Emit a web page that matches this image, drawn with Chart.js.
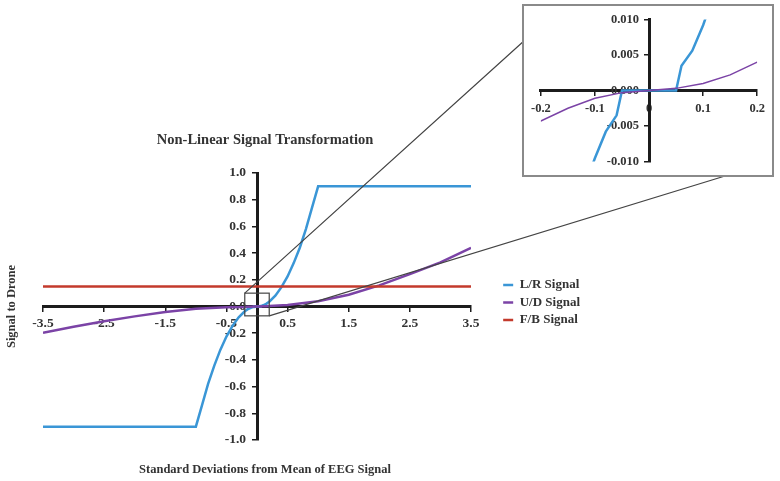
<!DOCTYPE html>
<html><head><meta charset="utf-8">
<script src="https://cdn.jsdelivr.net/npm/chart.js@4.4.1/dist/chart.umd.min.js"></script>
<style>
html,body{margin:0;padding:0;background:#fff;width:780px;height:481px;overflow:hidden;position:relative}
#mainWrap{position:absolute;left:-60px;top:0;width:840px;height:481px}
#insetWrap{position:absolute;left:522px;top:4px;width:248px;height:169px;border:2px solid #8a8a8a;background:#fff}
canvas{display:block}
</style></head><body>
<div id="mainWrap"><canvas id="main" width="840" height="481"></canvas></div>
<div id="insetWrap"><canvas id="inset" width="248" height="169"></canvas></div>
<script>
// ---- data ----
const seriesNames = ['L/R Signal', 'U/D Signal', 'F/B Signal'];
const lrX = [-3.5, -1.0, -0.9, -0.8, -0.7, -0.6, -0.5, -0.4, -0.3, -0.2, -0.15, -0.1, -0.08, -0.06, -0.05, 0.05, 0.06, 0.08, 0.1, 0.15, 0.2, 0.3, 0.4, 0.5, 0.6, 0.7, 0.8, 0.9, 1.0, 3.5];
const lrY = [-0.9, -0.9, -0.74, -0.58, -0.445, -0.325, -0.225, -0.145, -0.081, -0.036, -0.02, -0.0095, -0.0058, -0.0035, 0, 0, 0.0035, 0.0056, 0.0092, 0.02, 0.036, 0.081, 0.145, 0.225, 0.325, 0.44, 0.58, 0.74, 0.9, 0.9];
const udX = [-3.5, -3.0, -2.5, -2.0, -1.5, -1.0, -0.5, -0.2, -0.15, -0.1, -0.05, 0, 0.05, 0.1, 0.15, 0.2, 0.5, 1.0, 1.5, 2.0, 2.5, 3.0, 3.5];
const udY = [-0.197, -0.152, -0.11, -0.074, -0.042, -0.017, -0.006, -0.0043, -0.0025, -0.0011, -0.0003, 0, 0.0003, 0.001, 0.0022, 0.004, 0.012, 0.04, 0.088, 0.158, 0.243, 0.33, 0.44];
const fbX = [-3.5, 3.5];
const fbY = [0.15, 0.15];

const xTicks = [-3.5, -2.5, -1.5, -0.5, 0.5, 1.5, 2.5, 3.5];
const xTickLabels = ['-3.5', '-2.5', '-1.5', '-0.5', '0.5', '1.5', '2.5', '3.5'];
const yTicks = [-1, -0.8, -0.6, -0.4, -0.2, 0, 0.2, 0.4, 0.6, 0.8, 1];
const yTickLabels = ['-1.0', '-0.8', '-0.6', '-0.4', '-0.2', '0.0', '0.2', '0.4', '0.6', '0.8', '1.0'];
const insetXTicks = [-0.2, -0.1, 0, 0.1, 0.2];
const insetXTickLabels = ['-0.2', '-0.1', '0', '0.1', '0.2'];
const insetYTicks = [-0.01, -0.005, 0, 0.005, 0.01];
const insetYTickLabels = ['-0.010', '-0.005', '0.000', '0.005', '0.010'];
const zoomBoxX = [-0.2, 0.2];
const zoomBoxY = [-0.07, 0.1];

const mainTitle = 'Non-Linear Signal Transformation';
const xAxisTitle = 'Standard Deviations from Mean of EEG Signal';
const yAxisTitle = 'Signal to Drone';

// ---- styling ----
const FONT = 'Liberation Serif';
const TXT = '#333333';
const AXIS = '#1c1c1c';
const COLORS = ['#3a96d6', '#7b43a6', '#c33a2c'];
const pts = (xs, ys) => xs.map((x, i) => ({x: x, y: ys[i]}));
const bold = (size) => ({family: FONT, size: size, weight: 'bold'});

const MAIN_OFFSET_X = -60;        // css left of the main canvas
const RIGHT_PAD = 190;
const PLOT_RIGHT_PAGE = 471;
const INSET_LEFT = 522, INSET_TOP = 4;

const connectorPlugin = {
  id: 'zoomConnectors',
  afterDatasetsDraw(chart) {
    const {ctx} = chart;
    const xs = chart.scales.x, ys = chart.scales.y;
    const l = xs.getPixelForValue(zoomBoxX[0]), r = xs.getPixelForValue(zoomBoxX[1]);
    const t = ys.getPixelForValue(zoomBoxY[1]), b = ys.getPixelForValue(zoomBoxY[0]);
    ctx.save();
    ctx.strokeStyle = '#444';
    ctx.lineWidth = 1.2;
    ctx.strokeRect(l, t, r - l, b - t);
    ctx.beginPath();
    ctx.moveTo(l, t);
    ctx.lineTo(INSET_LEFT + 3 - MAIN_OFFSET_X, INSET_TOP + 36);
    ctx.moveTo(r, b);
    ctx.lineTo(INSET_LEFT + 203 - MAIN_OFFSET_X, INSET_TOP + 172);
    ctx.stroke();
    ctx.restore();
  }
};

// moves the labels of the crossing y axis to the left of its line
const yLabelShift = {
  id: 'yLabelShift',
  beforeDraw(chart, args, opts) {
    const s = chart.scales.y;
    s.getLabelItems().forEach(it => {
      if (!it._shifted) { it.options.translation[0] -= opts.shift; it._shifted = true; }
    });
  }
};

function centerAxis(cfg) {
  return Object.assign({
    type: 'linear',
    grid: {drawOnChartArea: false, drawTicks: true, tickLength: 4, color: AXIS, lineWidth: 1.5},
    border: {display: true, color: AXIS, width: 3}
  }, cfg);
}

new Chart(document.getElementById('main'), {
  type: 'line',
  data: {
    datasets: [
      {label: seriesNames[0], data: pts(lrX, lrY), borderColor: COLORS[0], backgroundColor: COLORS[0], borderWidth: 2.5, pointRadius: 0, tension: 0, order: 3, xAxisID: 'x', yAxisID: 'y'},
      {label: seriesNames[1], data: pts(udX, udY), borderColor: COLORS[1], backgroundColor: COLORS[1], borderWidth: 2.5, pointRadius: 0, tension: 0, order: 2, xAxisID: 'x', yAxisID: 'y'},
      {label: seriesNames[2], data: pts(fbX, fbY), borderColor: COLORS[2], backgroundColor: COLORS[2], borderWidth: 2.5, pointRadius: 0, tension: 0, order: 1, xAxisID: 'x', yAxisID: 'y'}
    ]
  },
  options: {
    responsive: false,
    animation: false,
    events: [],
    layout: {padding: {top: 128, bottom: 4, left: 0, right: RIGHT_PAD}},
    plugins: {
      title: {display: true, text: mainTitle, color: TXT, font: bold(14.5), padding: {top: 4, bottom: 23.6}},
      legend: {
        position: 'right', align: 'center', maxWidth: 200,
        labels: {
          usePointStyle: true, pointStyle: 'line', pointStyleWidth: 10, boxHeight: 13,
          padding: 4.5, color: TXT, font: bold(13),
          sort: (a, b) => a.datasetIndex - b.datasetIndex
        }
      },
      tooltip: {enabled: false},
      yLabelShift: {shift: 11}
    },
    scales: {
      x: centerAxis({
        position: {y: 0}, min: -3.5, max: 3.5,
        afterBuildTicks: s => { s.ticks = xTicks.map(v => ({value: v})); },
        ticks: {callback: (v, i) => xTickLabels[i], color: TXT, font: bold(13.5), padding: 5, autoSkip: false, maxRotation: 0}
      }),
      y: centerAxis({
        position: {x: 0}, min: -1, max: 1,
        afterBuildTicks: s => { s.ticks = yTicks.map(v => ({value: v})); },
        ticks: {callback: (v, i) => yTickLabels[i], color: TXT, font: bold(13.5), padding: 6, autoSkip: false}
      }),
      xTitle: {
        axis: 'x', type: 'linear', position: 'bottom', fullSize: true,
        ticks: {display: false}, grid: {display: false, drawTicks: false}, border: {display: false},
        title: {display: true, text: xAxisTitle, color: TXT, font: bold(12.5), padding: {top: 0, bottom: 0}},
        afterFit: s => { s.height = 37; }
      },
      yTitle: {
        axis: 'y', type: 'linear', position: 'left',
        ticks: {display: false}, grid: {display: false, drawTicks: false}, border: {display: false},
        title: {display: true, text: yAxisTitle, color: TXT, font: bold(12.5), padding: {top: 64.5, bottom: 0}},
        afterFit: s => { s.width = 43 - MAIN_OFFSET_X; }
      },
      gap: {
        axis: 'y', type: 'linear', position: 'right',
        ticks: {display: false}, grid: {display: false, drawTicks: false}, border: {display: false},
        afterFit: s => {
          const lw = s.chart.legend ? s.chart.legend.width : 90;
          s.width = Math.max(0, (780 - RIGHT_PAD - lw) - PLOT_RIGHT_PAGE);
        }
      }
    }
  },
  plugins: [connectorPlugin, yLabelShift]
});

new Chart(document.getElementById('inset'), {
  type: 'line',
  data: {
    datasets: [
      {label: seriesNames[0], data: pts(lrX, lrY), borderColor: COLORS[0], borderWidth: 2.5, pointRadius: 0, tension: 0, order: 3},
      {label: seriesNames[1], data: pts(udX, udY), borderColor: COLORS[1], borderWidth: 1.5, pointRadius: 0, tension: 0, order: 2}
    ]
  },
  options: {
    responsive: false,
    animation: false,
    events: [],
    layout: {padding: {left: 16.7, right: 14.3, top: 10.7, bottom: 10}},
    plugins: {legend: {display: false}, title: {display: false}, tooltip: {enabled: false}, yLabelShift: {shift: 10}},
    scales: {
      x: centerAxis({
        position: {y: 0}, min: -0.2, max: 0.2,
        afterBuildTicks: s => { s.ticks = insetXTicks.map(v => ({value: v})); },
        ticks: {callback: (v, i) => insetXTickLabels[i], color: TXT, font: bold(12.5), padding: 7, autoSkip: false, maxRotation: 0}
      }),
      y: centerAxis({
        position: {x: 0}, min: -0.01, max: 0.01,
        afterBuildTicks: s => { s.ticks = insetYTicks.map(v => ({value: v})); },
        ticks: {callback: (v, i) => insetYTickLabels[i], color: TXT, font: bold(12.5), padding: 6, autoSkip: false}
      })
    }
  },
  plugins: [yLabelShift]
});
</script>
</body></html>
